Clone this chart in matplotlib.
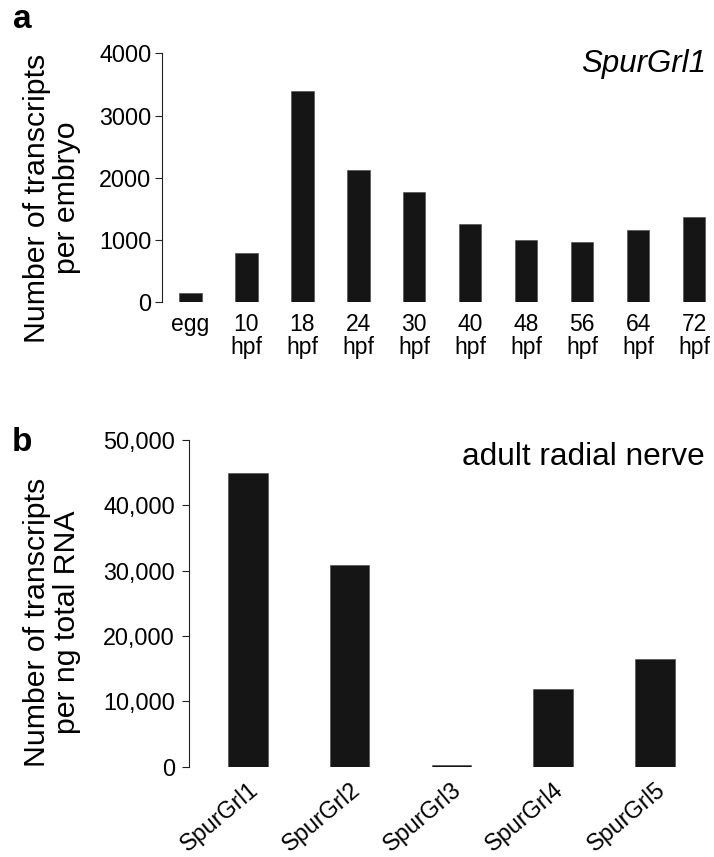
import matplotlib
matplotlib.use("Agg")
import matplotlib.pyplot as plt
import numpy as np

plt.rcParams['font.family'] = ['Liberation Sans', 'DejaVu Sans']

# Panel a data
stages = ["egg", "10\nhpf", "18\nhpf", "24\nhpf", "30\nhpf", "40\nhpf", "48\nhpf", "56\nhpf", "64\nhpf", "72\nhpf"]
transcripts_embryo = [145, 787, 3400, 2120, 1772, 1258, 1001, 969, 1168, 1371]
a_yticks = [0, 1000, 2000, 3000, 4000]

# Panel b data
genes = ["SpurGrl1", "SpurGrl2", "SpurGrl3", "SpurGrl4", "SpurGrl5"]
transcripts_rna = [45000, 30870, 200, 11940, 16430]
b_yticks = [0, 10000, 20000, 30000, 40000, 50000]
b_yticklabels = ["0", "10,000", "20,000", "30,000", "40,000", "50,000"]

W, H = 714, 857
fig = plt.figure(figsize=(W / 100, H / 100), dpi=100)

def fx(px):
    return px / W

def fy(py):
    return 1 - py / H

bar_color = "#151515"
spine_color = "#222222"

# ---------- Panel a ----------
axa = fig.add_axes([fx(162), fy(302.3), fx(708) - fx(162), fy(53.3) - fy(302.3)])
xa = np.arange(len(stages))
axa.bar(xa, transcripts_embryo, width=0.4, color=bar_color, edgecolor="#444444", linewidth=0.4)
axa.set_xlim(-0.51, 9.25)
axa.set_ylim(0, 4000)
axa.set_yticks(a_yticks)
axa.set_yticklabels([str(v) for v in a_yticks])
axa.set_xticks(xa)
axa.set_xticklabels(stages, fontsize=16.5, linespacing=1.0)
axa.tick_params(axis='x', length=0, pad=8)
axa.tick_params(axis='y', length=5, width=0.8, pad=2.5, labelsize=16.8, direction='out', color=spine_color)
for s in ["top", "right", "bottom"]:
    axa.spines[s].set_visible(False)
axa.spines["left"].set_linewidth(0.8)
axa.spines["left"].set_color(spine_color)

fig.text(fx(706), fy(72), "SpurGrl1", ha="right", va="baseline", fontsize=22.5, style="italic")
fig.text(fx(13), fy(28), "a", ha="left", va="baseline", fontsize=24, weight="bold")
fig.text(fx(52), fy(198), "Number of transcripts\nper embryo", rotation=90, ha="center", va="center",
         multialignment="center", fontsize=21.8, linespacing=1.12)

# ---------- Panel b ----------
axb = fig.add_axes([fx(188.7), fy(766.7), fx(708) - fx(188.7), fy(440) - fy(766.7)])
xb = np.arange(len(genes))
axb.bar(xb, transcripts_rna, width=0.39, color=bar_color, edgecolor="#444444", linewidth=0.4)
axb.set_xlim(-0.58, 4.52)
axb.set_ylim(0, 50000)
axb.set_yticks(b_yticks)
axb.set_yticklabels(b_yticklabels)
axb.set_xticks(xb)
axb.set_xticklabels(genes, fontsize=16.8, rotation=40, ha="right", rotation_mode="anchor")
axb.tick_params(axis='x', length=0, pad=8)
axb.tick_params(axis='y', length=5, width=0.8, pad=5, labelsize=16.8, direction='out', color=spine_color)
for s in ["top", "right", "bottom"]:
    axb.spines[s].set_visible(False)
axb.spines["left"].set_linewidth(0.8)
axb.spines["left"].set_color(spine_color)

fig.text(fx(705), fy(465), "adult radial nerve", ha="right", va="baseline", fontsize=22.8)
fig.text(fx(12), fy(451), "b", ha="left", va="baseline", fontsize=24, weight="bold")
fig.text(fx(52), fy(622), "Number of transcripts\nper ng total RNA", rotation=90, ha="center", va="center",
         multialignment="center", fontsize=21.8, linespacing=1.12)

fig.savefig("out.png", dpi=100)
